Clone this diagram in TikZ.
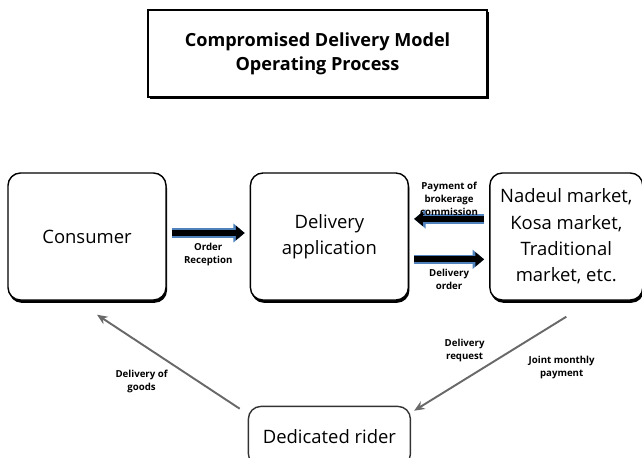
\documentclass[tikz,border=0pt]{standalone}
\usepackage{fontspec}
\setmainfont{Open Sans}
\usetikzlibrary{arrows.meta,shadows,positioning}
\definecolor{arrowblue}{RGB}{79,129,189}
\definecolor{linegray}{RGB}{105,105,105}
\begin{document}
\begin{tikzpicture}[
	box/.style={draw, rounded corners=0.25cm, line width=0.8pt, fill=white, align=center, minimum width=3.16cm, minimum height=2.54cm, font=\fontsize{10.5}{15}\selectfont, drop shadow={shadow xshift=0.6pt, shadow yshift=-1.6pt, opacity=1, fill=black}},
	blockarrow/.style={line width=3.4pt, black, -{Triangle[length=5pt,width=8pt]}, shorten <=0.1cm, shorten >=0.1cm, preaction={draw=arrowblue, line width=5.4pt, -{Triangle[length=6.5pt,width=10.5pt]}}},
	thinarrow/.style={draw=linegray, line width=1.1pt, -{Stealth[length=6pt,width=5pt]}},
	lbl/.style={font=\fontsize{5.5}{7.5}\selectfont\bfseries, align=center, inner sep=1pt}
]
		\useasboundingbox (0,0) rectangle (12.84,9.14);
		\node[draw, line width=0.8pt, fill=white, minimum width=6.78cm, minimum height=1.74cm, align=center, font=\fontsize{10.3}{13.5}\selectfont\bfseries, drop shadow={shadow xshift=1.4pt, shadow yshift=-1.4pt, opacity=1, fill=black}] (title) at (6.35,8.07) {Compromised Delivery Model\\Operating Process};
		
		\node[box] (consumer) at (1.74,4.41) {Consumer};
		\node[box, right=1.66cm of consumer] (app) {Delivery\\application};
		\node[box, right=1.6cm of app, minimum width=3.06cm] (market) {Nadeul market,\\Kosa market,\\Traditional\\market, etc.};
		\node[draw=black!80, line width=0.8pt, rounded corners=0.25cm, minimum width=3.24cm, minimum height=1.2cm, font=\fontsize{10.5}{15}\selectfont, below=2.1cm of app] (rider) {Dedicated rider};
		
		\draw[blockarrow] ([yshift=2pt]consumer.east) -- node[lbl, below=3pt]{Order\\Reception} ([yshift=2pt]app.west);
		\draw[blockarrow] ([yshift=10pt]market.west) -- node[lbl, above=-1pt]{Payment of\\brokerage\\commission} ([yshift=10pt]app.east);
		\draw[blockarrow] ([yshift=-13pt]app.east) -- node[lbl, below=3pt]{Delivery\\order} ([yshift=-13pt]market.west);
		
		\draw[thinarrow] ([shift={(-0.16,-0.06)}]rider.north west) -- node[lbl, pos=0.4, anchor=east, xshift=-7pt, yshift=-6pt]{Delivery of\\goods} ([shift={(0.2,-0.28)}]consumer.south);
		\draw[thinarrow] ([yshift=-0.32cm]market.south) -- node[lbl, pos=0.45, anchor=east, xshift=-6pt, yshift=5pt]{Delivery\\request} node[lbl, pos=0.3, anchor=north west, xshift=3pt, yshift=-5pt]{Joint monthly\\payment} ([shift={(0.06,-0.1)}]rider.north east);
\end{tikzpicture}
\end{document}
